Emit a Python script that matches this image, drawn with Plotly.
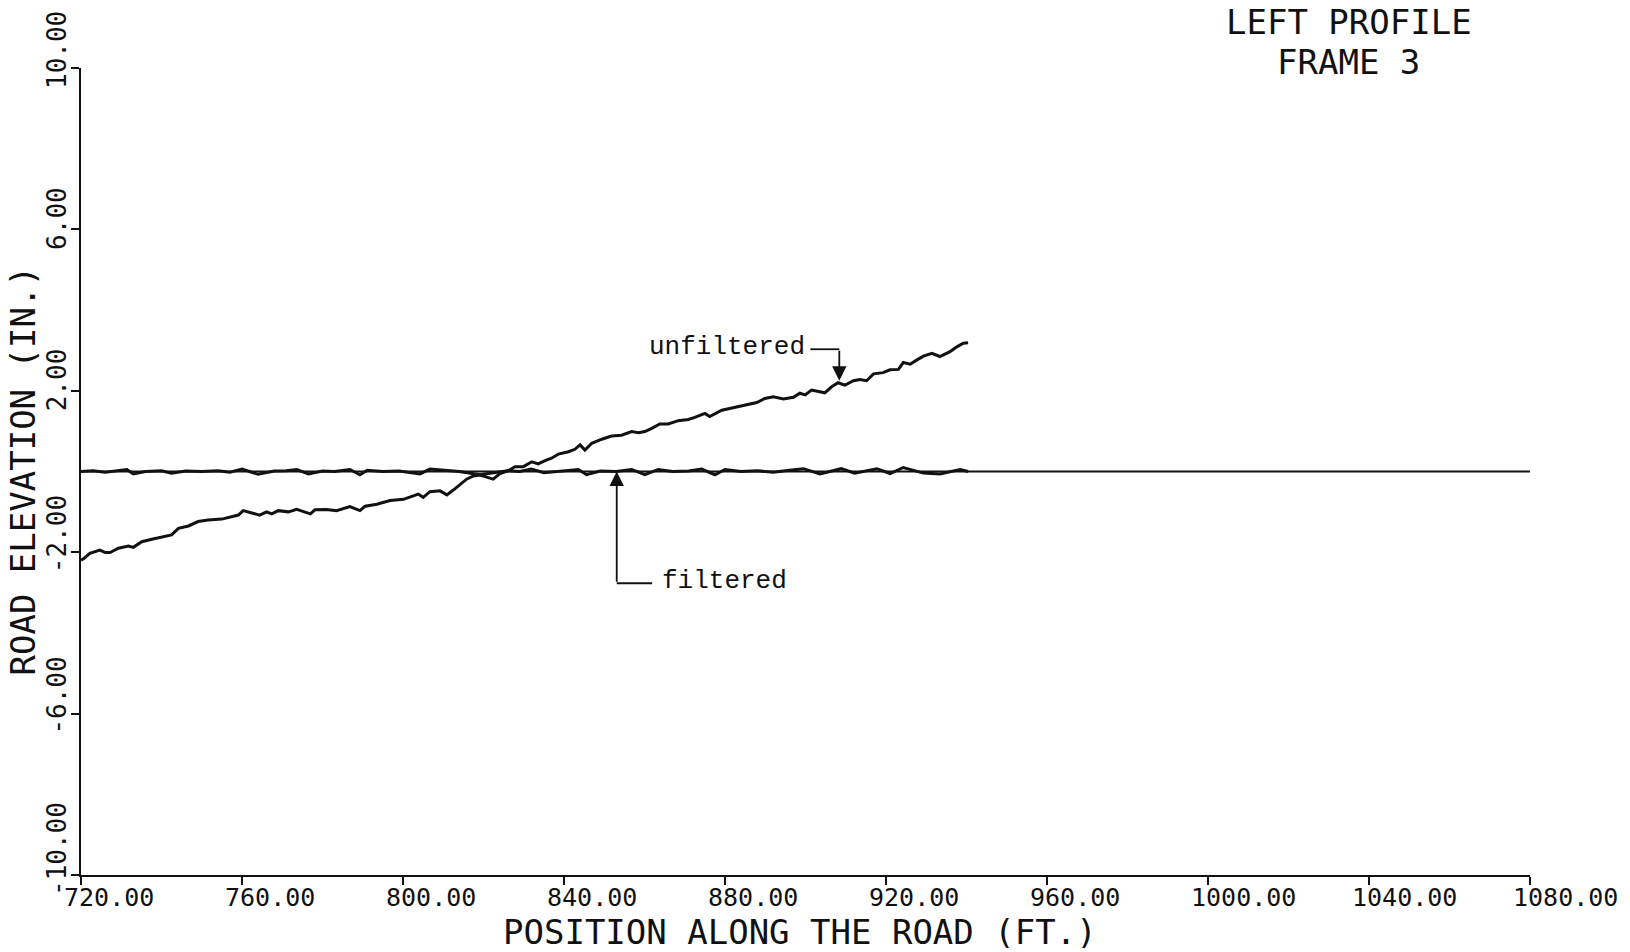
import plotly.graph_objects as go

# ---------------- data ----------------
x_ticks = [720, 760, 800, 840, 880, 920, 960, 1000, 1040, 1080]
y_ticks = [-10, -6, -2, 2, 6, 10]
x_range = [720, 1080]
y_range = [-10, 10]

unf_x = [
    720.0, 720.8, 722.2, 724.7, 726.0, 727.2, 729.3, 731.8, 733.0, 735.1,
    737.6, 740.0, 742.5, 744.2, 746.7, 749.1, 751.6, 755.0, 757.4, 759.1,
    760.3, 762.0, 764.4, 766.1, 767.4, 769.0, 771.5, 773.6, 775.7, 777.0,
    778.1, 781.0, 783.5, 786.8, 789.3, 790.6, 793.5, 796.8, 800.1, 802.6,
    803.8, 805.0, 806.7, 809.2, 810.9, 812.5, 814.2, 815.8, 817.5, 819.1,
    820.8, 822.4, 824.1, 826.2, 827.8, 829.9, 832.0, 833.6, 835.3, 836.9,
    838.6, 841.1, 842.7, 844.0, 845.2, 846.9, 849.4, 851.8, 854.3, 856.8,
    858.5, 860.1, 861.8, 863.8, 865.9, 868.4, 870.9, 872.5, 875.0, 876.2,
    879.2, 881.7, 885.0, 887.9, 889.9, 892.0, 894.5, 897.0, 898.6, 899.9,
    901.5, 903.6, 904.8, 906.5, 908.1, 909.8, 911.9, 913.5, 915.2, 916.9,
    919.3, 921.0, 923.1, 924.3, 926.0, 927.6, 929.3, 931.4, 933.4, 935.9,
    937.6, 939.2, 940.4]
unf_y = [
    -2.20, -2.15, -2.03, -1.95, -2.01, -2.01, -1.90, -1.85, -1.88, -1.74,
    -1.68, -1.62, -1.57, -1.41, -1.35, -1.24, -1.20, -1.18, -1.12, -1.08,
    -0.97, -1.02, -1.08, -1.00, -1.05, -0.97, -1.00, -0.94, -1.02, -1.05,
    -0.95, -0.94, -0.97, -0.87, -0.97, -0.86, -0.81, -0.72, -0.69, -0.61,
    -0.56, -0.64, -0.50, -0.48, -0.58, -0.46, -0.33, -0.19, -0.11, -0.09,
    -0.14, -0.19, -0.05, 0.02, 0.12, 0.12, 0.24, 0.19, 0.27, 0.33,
    0.43, 0.49, 0.55, 0.66, 0.53, 0.70, 0.80, 0.88, 0.90, 0.99,
    0.96, 0.99, 1.07, 1.18, 1.18, 1.26, 1.29, 1.34, 1.44, 1.36,
    1.52, 1.57, 1.65, 1.71, 1.81, 1.85, 1.80, 1.84, 1.94, 1.90,
    2.02, 1.98, 1.95, 2.10, 2.20, 2.14, 2.25, 2.28, 2.25, 2.42,
    2.45, 2.52, 2.53, 2.70, 2.66, 2.76, 2.86, 2.93, 2.85, 2.97,
    3.09, 3.18, 3.19]

filt_x = [
    720, 723, 726, 729, 731.4, 733, 736, 740, 742.5, 746,
    750, 754, 757, 760, 764, 768, 771, 773.6, 776.5, 780,
    783, 786.8, 789.3, 791.1, 795, 799, 804.2, 806.7, 810, 814,
    819.1, 822, 826, 829, 831.9, 835, 839, 843.6, 845.6, 849,
    853, 856.8, 860.1, 863.4, 867, 871, 874.2, 877.5, 880, 884,
    888, 892, 896, 899.5, 903.6, 908.9, 912.2, 917.7, 921, 924.3,
    929.3, 933.4, 938.4, 940.4]
filt_y = [
    0.0, 0.02, -0.02, 0.01, 0.05, -0.06, 0.0, 0.02, -0.04, 0.01,
    0.0, 0.02, -0.02, 0.06, -0.07, 0.01, 0.02, 0.05, -0.06, 0.01,
    0.0, 0.05, -0.08, 0.03, 0.0, 0.01, -0.06, 0.06, 0.03, 0.0,
    -0.08, -0.04, 0.02, 0.0, 0.06, -0.03, 0.01, 0.05, -0.08, 0.01,
    0.0, 0.05, -0.08, 0.05, 0.0, 0.01, 0.06, -0.08, 0.05, 0.0,
    0.02, -0.02, 0.03, 0.07, -0.06, 0.07, -0.04, 0.07, -0.05, 0.1,
    -0.04, -0.06, 0.05, 0.0]

base_x = [720, 1080]
base_y = [0, 0]

# callouts
unf_label = "unfiltered"
unf_text_x, unf_leader_y, unf_arrow_x, unf_tip_y = 900.3, 3.03, 908.4, 2.25
filt_label = "filtered"
filt_text_x, filt_leader_y, filt_arrow_x, filt_tip_y = 863.8, -2.77, 853.1, 0.0

title_lines = ["LEFT PROFILE", "FRAME 3"]
x_title = "POSITION ALONG THE ROAD (FT.)"
y_title = "ROAD ELEVATION (IN.)"

# ---------------- figure ----------------
PLOT_FONT = "DejaVu Sans Mono"
TYPE_FONT = "Liberation Mono"
INK = "#111111"

fig = go.Figure()
fig.add_trace(go.Scatter(x=base_x, y=base_y, mode="lines",
                         line=dict(color=INK, width=2), hoverinfo="skip"))
fig.add_trace(go.Scatter(x=filt_x, y=filt_y, mode="lines",
                         line=dict(color=INK, width=3), hoverinfo="skip"))
fig.add_trace(go.Scatter(x=unf_x, y=unf_y, mode="lines",
                         line=dict(color=INK, width=3), hoverinfo="skip"))

annotations = []
# x tick labels
for v in x_ticks:
    annotations.append(dict(x=v, xref="x", y=0, yref="paper", text=f"{v:.2f}",
                            showarrow=False, xanchor="left", yanchor="top",
                            xshift=-18, yshift=-7, borderpad=0,
                            font=dict(family=PLOT_FONT, size=25, color=INK)))
# y tick labels (rotated, start at tick going upward)
for v in y_ticks:
    annotations.append(dict(x=0, xref="paper", y=v, yref="y", text=f"{v:.2f}",
                            showarrow=False, textangle=-90, xanchor="right",
                            yanchor="bottom", xshift=-8, yshift=-22, borderpad=0,
                            font=dict(family=PLOT_FONT, size=26, color=INK)))
# axis titles
annotations.append(dict(x=0.5, xref="paper", y=0, yref="paper", text=x_title,
                        showarrow=False, xanchor="center", yanchor="middle",
                        xshift=-6, yshift=-56.5, borderpad=0,
                        font=dict(family=PLOT_FONT, size=34, color=INK)))
annotations.append(dict(x=0, xref="paper", y=0.5, yref="paper", text=y_title,
                        showarrow=False, textangle=-90, xanchor="center",
                        yanchor="middle", xshift=-59, borderpad=0,
                        font=dict(family=PLOT_FONT, size=34, color=INK)))
# title lines
for i, line in enumerate(title_lines):
    annotations.append(dict(x=0.875, xref="paper", y=1, yref="paper", text=line,
                            showarrow=False, xanchor="center", yanchor="middle",
                            yshift=46.5 - 40 * i, borderpad=0,
                            font=dict(family=PLOT_FONT, size=34, color=INK)))
# callout texts
annotations.append(dict(x=unf_text_x, y=unf_leader_y, xref="x", yref="y",
                        text=unf_label, showarrow=False, xanchor="right",
                        yanchor="middle", yshift=2,
                        font=dict(family=TYPE_FONT, size=26, color=INK)))
annotations.append(dict(x=filt_text_x, y=filt_leader_y, xref="x", yref="y",
                        text=filt_label, showarrow=False, xanchor="left",
                        yanchor="middle", yshift=2,
                        font=dict(family=TYPE_FONT, size=26, color=INK)))
# arrows
for ax_, tail_y, tip_y in [(unf_arrow_x, unf_leader_y, unf_tip_y),
                           (filt_arrow_x, filt_leader_y, filt_tip_y)]:
    annotations.append(dict(x=ax_, y=tip_y, xref="x", yref="y",
                            ax=ax_, ay=tail_y, axref="x", ayref="y",
                            text="", showarrow=True, arrowhead=2,
                            arrowsize=1.6, arrowwidth=1.8, arrowcolor=INK,
                            standoff=0, startstandoff=0))

shapes = [
    dict(type="line", xref="x", yref="y", x0=unf_text_x + 0.9, x1=unf_arrow_x,
         y0=unf_leader_y, y1=unf_leader_y, line=dict(color=INK, width=1.8)),
    dict(type="line", xref="x", yref="y", x0=filt_arrow_x, x1=filt_text_x - 1.9,
         y0=filt_leader_y, y1=filt_leader_y, line=dict(color=INK, width=1.8)),
]

fig.update_layout(
    width=1630, height=952,
    margin=dict(l=81, r=100, t=68, b=77),
    paper_bgcolor="white", plot_bgcolor="white",
    showlegend=False,
    hovermode=False,
    annotations=annotations,
    shapes=shapes,
    xaxis=dict(range=x_range, tickvals=x_ticks, showticklabels=False,
               ticks="outside", ticklen=8, tickwidth=2, tickcolor=INK,
               showline=True, linecolor=INK, linewidth=2,
               showgrid=False, zeroline=False),
    yaxis=dict(range=y_range, tickvals=y_ticks, showticklabels=False,
               ticks="outside", ticklen=8, tickwidth=2, tickcolor=INK,
               showline=True, linecolor=INK, linewidth=2,
               showgrid=False, zeroline=False),
)

# remove the default page margin so the figure fills the window exactly
fig.write_html("out.html",
               config={"displayModeBar": False, "staticPlot": True},
               post_script="document.body.style.margin='0';"
                           "document.body.style.overflow='hidden';")
